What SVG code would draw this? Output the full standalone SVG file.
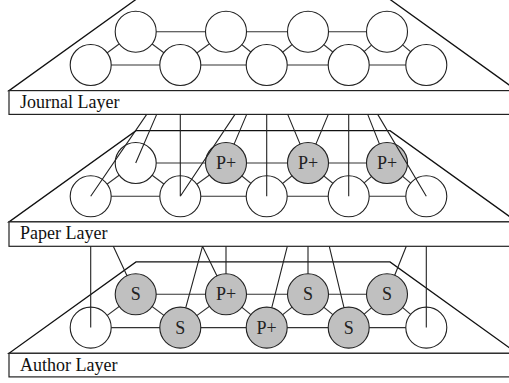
<svg xmlns="http://www.w3.org/2000/svg" width="509" height="383" viewBox="0 0 509 383">
<style>
.trap{fill:none;stroke:#111;stroke-width:1.3}
.box{fill:#fff;stroke:#222;stroke-width:1.2}
.lbl{font-size:18px;fill:#111}
.e{stroke:#333;stroke-width:1.1;fill:none}
.n{fill:#fff;stroke:#222;stroke-width:1.1}
.g{fill:#c0c0c0;stroke:#222;stroke-width:1.1}
.t{font-size:18px;fill:#222;text-anchor:middle}
.c{stroke:#222;stroke-width:1.1;fill:none}
</style>
<defs>
<g id="edges">
<path class="e" d="M135.7 31.7H226H308H387M90.7 65H180.3H266.7H348.7H426.3M90.7 65L135.7 31.7L180.3 65L226 31.7L266.7 65L308 31.7L348.7 65L387 31.7L426.3 65"/>
</g>
</defs>
<g font-family="'Liberation Serif', 'DejaVu Serif', serif">
<g id="journal-layer">
<polygon class="trap" points="136,-0.6 390,-0.6 517,90.6 9,90.6"/>
<rect class="box" x="9" y="90.6" width="520" height="23.8"/>
<text class="lbl" x="20" y="108.3">Journal Layer</text>
<use href="#edges"/>
</g>
<g id="j1"><circle class="n" cx="90.7" cy="65" r="20.5"/></g>
<g id="j2"><circle class="n" cx="135.7" cy="31.7" r="20.5"/></g>
<g id="j3"><circle class="n" cx="180.3" cy="65" r="20.5"/></g>
<g id="j4"><circle class="n" cx="226" cy="31.7" r="20.5"/></g>
<g id="j5"><circle class="n" cx="266.7" cy="65" r="20.5"/></g>
<g id="j6"><circle class="n" cx="308" cy="31.7" r="20.5"/></g>
<g id="j7"><circle class="n" cx="348.7" cy="65" r="20.5"/></g>
<g id="j8"><circle class="n" cx="387" cy="31.7" r="20.5"/></g>
<g id="j9"><circle class="n" cx="426.3" cy="65" r="20.5"/></g>

<g id="paper-layer">
<polygon class="trap" points="136,130.7 390,130.7 517,221.9 9,221.9"/>
<rect class="box" x="9" y="221.9" width="520" height="24.4"/>
<text class="lbl" x="20" y="239.4">Paper Layer</text>
<use href="#edges" transform="translate(0,131.3)"/>
</g>
<g id="p1"><circle class="n" cx="90.7" cy="196.3" r="20.5"/></g>
<g id="p2"><circle class="n" cx="135.7" cy="163" r="20.5"/></g>
<g id="p3"><circle class="n" cx="180.3" cy="196.3" r="20.5"/></g>
<g id="p4"><circle class="g" cx="226" cy="163" r="20.5"/><text class="t" x="226" y="169">P+</text></g>
<g id="p5"><circle class="n" cx="266.7" cy="196.3" r="20.5"/></g>
<g id="p6"><circle class="g" cx="308" cy="163" r="20.5"/><text class="t" x="308" y="169">P+</text></g>
<g id="p7"><circle class="n" cx="348.7" cy="196.3" r="20.5"/></g>
<g id="p8"><circle class="g" cx="387" cy="163" r="20.5"/><text class="t" x="387" y="169">P+</text></g>
<g id="p9"><circle class="n" cx="426.3" cy="196.3" r="20.5"/></g>

<g id="author-layer">
<polygon class="trap" points="136,261.9 390,261.9 517,353.3 9,353.3"/>
<rect class="box" x="9" y="353.3" width="520" height="23.6"/>
<text class="lbl" x="20" y="370.5">Author Layer</text>
<use href="#edges" transform="translate(0,262.6)"/>
</g>
<g id="a1"><circle class="n" cx="90.7" cy="327.6" r="20.5"/></g>
<g id="a2"><circle class="g" cx="135.7" cy="294.3" r="20.5"/><text class="t" x="135.7" y="300.3">S</text></g>
<g id="a3"><circle class="g" cx="180.3" cy="327.6" r="20.5"/><text class="t" x="180.3" y="333.6">S</text></g>
<g id="a4"><circle class="g" cx="226" cy="294.3" r="20.5"/><text class="t" x="226" y="300.3">P+</text></g>
<g id="a5"><circle class="g" cx="266.7" cy="327.6" r="20.5"/><text class="t" x="266.7" y="333.6">P+</text></g>
<g id="a6"><circle class="g" cx="308" cy="294.3" r="20.5"/><text class="t" x="308" y="300.3">S</text></g>
<g id="a7"><circle class="g" cx="348.7" cy="327.6" r="20.5"/><text class="t" x="348.7" y="333.6">S</text></g>
<g id="a8"><circle class="g" cx="387" cy="294.3" r="20.5"/><text class="t" x="387" y="300.3">S</text></g>
<g id="a9"><circle class="n" cx="426.3" cy="327.6" r="20.5"/></g>

<g id="connectors">
<path class="c" d="M146.7 114.4L90.7 196.3M156.7 114.4L135.7 163M180.3 114.4V196.3M235 114.4L180.3 196.3M246.7 114.4L234.1 144.1M266.7 114.4V196.3M287.7 114.4L300.1 144.1M328.3 114.4L315.9 144.1M348.7 114.4V196.3M367.7 114.4L379.4 143.9M377.7 114.4L426.3 196.3"/>
<path class="c" d="M90.7 246.3V327.6M113.3 246.3L127 275.7M202.5 246.3L185.7 307.8M202.5 246.3L217 275.9M226 246.3V273.8M287.3 246.3L271.7 307.8M308 246.3V273.8M329.3 246.3L344 307.7M406.3 246.3L394.7 275.2M426.3 246.3V327.6"/>
</g>
</g>
</svg>
